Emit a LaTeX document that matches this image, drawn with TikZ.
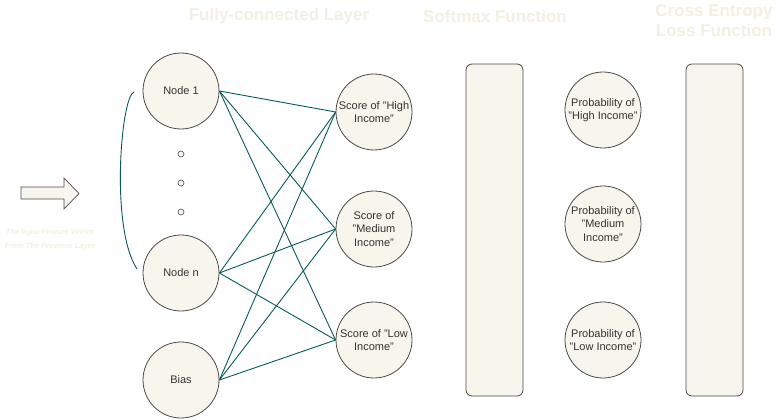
\documentclass[tikz,border=0pt]{standalone}
\usepackage{fontspec}
\setmainfont{Liberation Sans}
\definecolor{cream}{HTML}{F7F5EC}
\definecolor{titlecol}{HTML}{F3F0E2}
\definecolor{edgecol}{HTML}{4A4A4A}
\definecolor{teal}{HTML}{0A5A5A}
\definecolor{txt}{HTML}{333333}
\begin{document}
\begin{tikzpicture}[x=1pt,y=-1pt,
  neuron/.style={circle,draw=edgecol,line width=0.8pt,fill=cream,minimum size=76pt,inner sep=0pt,
    font=\fontsize{11}{13.5}\selectfont,text=txt,align=center},
  dotnode/.style={circle,draw=edgecol,line width=0.6pt,fill=cream,minimum size=6pt,inner sep=0pt},
  bar/.style={rectangle,rounded corners=6pt,draw=edgecol,line width=0.8pt,fill=cream,minimum width=57pt,minimum height=332pt,inner sep=0pt},
  title/.style={font=\fontsize{17}{20}\selectfont\bfseries,text=titlecol,align=center},
  conn/.style={draw=teal,line width=0.9pt}]
\useasboundingbox[fill=white] (0,0) rectangle (779,420);
% titles
\node[title] (t1) at (279,16) {Fully-connected Layer};
\node[title] (t2) at (495,16) {Softmax Function};
\node[title] (t3) at (714,21) {Cross Entropy\\Loss Function};
% input arrow
\draw[draw=edgecol,line width=0.7pt,fill=cream] (21,187) -- (64,187) -- (64,178) -- (79,193.5) -- (64,209) -- (64,199) -- (21,199) -- cycle;
\node[font=\fontsize{7.5}{14}\selectfont\bfseries\itshape,text=titlecol,align=center] (inp) at (50,240) {The Input Feature Vector\\From The Previous Layer};
% left nodes
\node[neuron] (n1) at (181,91) {Node 1};
\node[neuron] (nn) at (181,273) {Node n};
\node[neuron] (b) at (181,380) {Bias};
\node[dotnode] (d1) at (181,154) {};
\node[dotnode] (d2) at (181,183) {};
\node[dotnode] (d3) at (181,212) {};
% scores
\node[neuron] (sh) at (374,112) {Score of "High\\Income"};
\node[neuron] (sm) at (374,229) {Score of\\"Medium\\Income"};
\node[neuron] (sl) at (374,340) {Score of "Low\\Income"};
% bars
\node[bar] (soft) at (494.5,230) {};
\node[bar] (ce) at (714.5,230) {};
% probabilities
\node[neuron] (ph) at (603,110) {Probability of\\"High Income"};
\node[neuron] (pm) at (603,224) {Probability of\\"Medium\\Income"};
\node[neuron] (pl) at (603,340) {Probability of\\"Low Income"};
% connections
\foreach \s in {n1,nn,b}{
  \foreach \t in {sh,sm,sl}{
    \draw[conn] (\s.east) -- (\t.west);
  }
}
% left curve
\coordinate (ca) at (134,92);
\coordinate (cb) at (137,269);
\draw[conn] (ca) .. controls (121,96) and (110,228) .. (cb);
\end{tikzpicture}
\end{document}
